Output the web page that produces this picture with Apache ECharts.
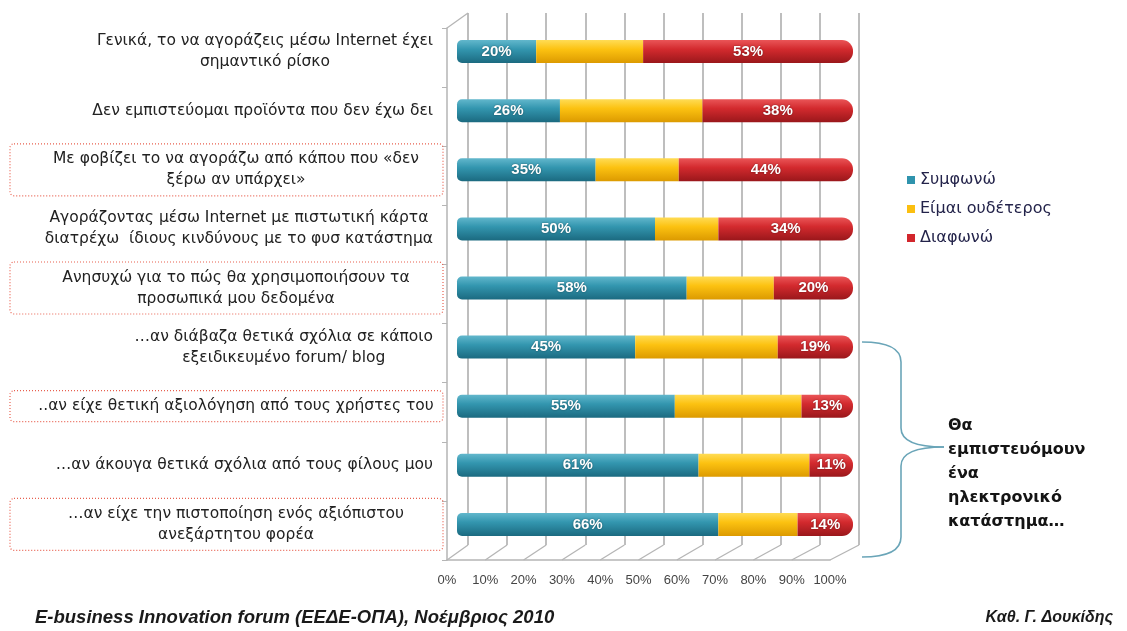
<!DOCTYPE html>
<html>
<head>
<meta charset="utf-8">
<script src="https://cdn.jsdelivr.net/npm/echarts@6/dist/echarts.min.js"></script>
<style>
  html, body { margin: 0; padding: 0; background: #fff; }
  #chart { width: 1127px; height: 631px; }
</style>
</head>
<body>
<div id="chart"></div>
<script>
// data
const categories = [
  'Γενικά, το να αγοράζεις μέσω Internet έχει\nσημαντικό ρίσκο',
  'Δεν εμπιστεύομαι προϊόντα που δεν έχω δει',
  'Με φοβίζει το να αγοράζω από κάπου που «δεν\nξέρω αν υπάρχει»',
  'Αγοράζοντας μέσω Internet με πιστωτική κάρτα\nδιατρέχω  ίδιους κινδύνους με το φυσ κατάστημα',
  'Ανησυχώ για το πώς θα χρησιμοποιήσουν τα\nπροσωπικά μου δεδομένα',
  '…αν διάβαζα θετικά σχόλια σε κάποιο\nεξειδικευμένο forum/ blog',
  '..αν είχε θετική αξιολόγηση από τους χρήστες του',
  '…αν άκουγα θετικά σχόλια από τους φίλους μου',
  '…αν είχε την πιστοποίηση ενός αξιόπιστου\nανεξάρτητου φορέα'
];
const boxed = [false, false, true, false, true, false, true, false, true];
const agree = [20, 26, 35, 50, 58, 45, 55, 61, 66];
const neutral = [27, 36, 21, 16, 22, 36, 32, 28, 20];
const disagree = [53, 38, 44, 34, 20, 19, 13, 11, 14];
const seriesNames = ['Συμφωνώ', 'Είμαι ουδέτερος', 'Διαφωνώ'];
const xTicks = [0, 10, 20, 30, 40, 50, 60, 70, 80, 90, 100];
const braceText = 'Θα\nεμπιστευόμουν\nένα\nηλεκτρονικό\nκατάστημα…';

const chart = echarts.init(document.getElementById('chart'));

function grad(top, mid, bottom) {
  return new echarts.graphic.LinearGradient(0, 0, 0, 1, [
    { offset: 0, color: top },
    { offset: 0.4, color: mid },
    { offset: 1, color: bottom }
  ]);
}

const barLabel = {
  show: true,
  position: 'inside',
  formatter: '{c}%',
  color: '#fff',
  fontFamily: 'Liberation Sans',
  fontWeight: 'bold',
  fontSize: 15,
  textShadowColor: 'rgba(0,0,0,0.45)',
  textShadowBlur: 2
};

// front (floor) and back wall of the fake 3d box
const front = { left: 447, top: 28, width: 383, height: 532 };
const back = { left: 468, top: 13, width: 391, height: 532 };
const lineGrey = '#b5b5b5';

const option = {
  animation: false,
  textStyle: { fontFamily: 'DejaVu Sans' },
  legend: {
    orient: 'vertical',
    left: 902,
    top: 167,
    itemWidth: 8,
    itemHeight: 8,
    itemGap: 13,
    icon: 'rect',
    textStyle: { fontSize: 16, color: '#23234a', fontFamily: 'DejaVu Sans' },
    data: [
      { name: seriesNames[0], itemStyle: { color: '#2f93ad' } },
      { name: seriesNames[1], itemStyle: { color: '#fbbf10' } },
      { name: seriesNames[2], itemStyle: { color: '#d2262c' } }
    ]
  },
  grid: [
    { left: 457, top: 22, width: 396, height: 532 },
    back,
    front
  ],
  xAxis: [
    { gridIndex: 0, type: 'value', min: 0, max: 100, show: false },
    {
      gridIndex: 1, type: 'value', min: 0, max: 100, interval: 10,
      axisLine: { show: false }, axisTick: { show: false }, axisLabel: { show: false },
      splitLine: { show: true, lineStyle: { color: '#a8a8a8', width: 1.5 } }
    },
    {
      gridIndex: 2, type: 'value', min: 0, max: 100, interval: 10,
      axisLine: { show: true, lineStyle: { color: lineGrey, width: 1.5 } },
      axisTick: { show: false },
      splitLine: { show: false },
      axisLabel: {
        formatter: '{value}%', color: '#444', fontSize: 13,
        fontFamily: 'Liberation Sans', margin: 14
      }
    }
  ],
  yAxis: [
    {
      gridIndex: 0, type: 'category', inverse: true,
      data: categories.map((c, i) => boxed[i] ? {
        value: c,
        textStyle: {
          borderColor: '#e8604f', borderWidth: 1.2, borderType: [1, 2],
          borderRadius: 4, width: 394, padding: [5, 10, 5, 29]
        }
      } : c),
      axisLine: { show: false }, axisTick: { show: false },
      axisLabel: {
        margin: 14,
        color: '#222',
        fontSize: 15.5,
        lineHeight: 21,
        padding: [0, 10, 0, 0],
        formatter: v => v.split('\n').map(s => '{c|' + s + '}').join('\n'),
        rich: { c: { align: 'center', fontSize: 15.5, lineHeight: 21, color: '#222', fontFamily: 'DejaVu Sans' } }
      }
    },
    { gridIndex: 1, type: 'value', show: false },
    {
      gridIndex: 2, type: 'category', data: categories.map((c, i) => i),
      axisLine: { show: true, lineStyle: { color: lineGrey, width: 1.5 } },
      axisTick: { show: true, length: 5, lineStyle: { color: lineGrey } },
      axisLabel: { show: false }
    }
  ],
  series: [
    {
      name: seriesNames[0], type: 'bar', stack: 'all', barWidth: 23,
      data: agree,
      itemStyle: { color: grad('#62b7cc', '#3396af', '#1b6a80'), borderRadius: [5, 0, 0, 5] },
      label: barLabel
    },
    {
      name: seriesNames[1], type: 'bar', stack: 'all', barWidth: 23,
      data: neutral,
      itemStyle: { color: grad('#ffdc55', '#fcc211', '#dc9a00') }
    },
    {
      name: seriesNames[2], type: 'bar', stack: 'all', barWidth: 23,
      data: disagree,
      itemStyle: { color: grad('#ea5557', '#d32a2e', '#9a171b'), borderRadius: [0, 11, 11, 0] },
      label: barLabel
    }
  ]
};
chart.setOption(option);

// slanted floor lines joining the front axis to the back wall grid lines
const floorY = front.top + front.height;
const backY = back.top + back.height;
const graphics = xTicks.map(v => ({
  type: 'line',
  shape: {
    x1: chart.convertToPixel({ xAxisIndex: 2 }, v), y1: floorY,
    x2: chart.convertToPixel({ xAxisIndex: 1 }, v), y2: backY
  },
  style: { stroke: lineGrey, lineWidth: 1.3 },
  silent: true
}));
graphics.push({
  type: 'line',
  shape: { x1: front.left, y1: front.top, x2: back.left, y2: back.top },
  style: { stroke: lineGrey, lineWidth: 1.3 },
  silent: true
});

// curly brace made of curves and lines
const braceStyle = { stroke: '#6aa5b8', lineWidth: 1.6, fill: null };
const braceParts = [
  { type: 'bezierCurve', shape: { x1: 862, y1: 342, x2: 901, y2: 362, cpx1: 901, cpy1: 342 } },
  { type: 'line', shape: { x1: 901, y1: 362, x2: 901, y2: 428 } },
  { type: 'bezierCurve', shape: { x1: 901, y1: 428, x2: 944, y2: 447, cpx1: 901, cpy1: 447 } },
  { type: 'bezierCurve', shape: { x1: 944, y1: 447, x2: 901, y2: 466, cpx1: 901, cpy1: 447 } },
  { type: 'line', shape: { x1: 901, y1: 466, x2: 901, y2: 537 } },
  { type: 'bezierCurve', shape: { x1: 901, y1: 537, x2: 862, y2: 557, cpx1: 901, cpy1: 557 } }
];
braceParts.forEach(p => graphics.push(Object.assign(p, { style: braceStyle, silent: true })));

graphics.push({
  type: 'text', left: 948, top: 414,
  style: {
    text: braceText, fontSize: 16, fontWeight: 'bold', lineHeight: 24,
    fill: '#141414', fontFamily: 'DejaVu Sans'
  }
});
// footer
graphics.push({
  type: 'text', left: 35, top: 608,
  style: {
    text: 'E-business Innovation forum (ΕΕΔΕ-ΟΠΑ), Νοέμβριος 2010',
    fontSize: 18.5, fontWeight: 'bold', fontStyle: 'italic',
    fill: '#1a1a1a', fontFamily: 'Liberation Sans'
  }
});
graphics.push({
  type: 'text', right: 14, top: 610,
  style: {
    text: 'Καθ. Γ. Δουκίδης',
    fontSize: 16, fontWeight: 'bold', fontStyle: 'italic',
    fill: '#1a1a1a', fontFamily: 'Liberation Sans'
  }
});
chart.setOption({ graphic: graphics });
</script>
</body>
</html>
